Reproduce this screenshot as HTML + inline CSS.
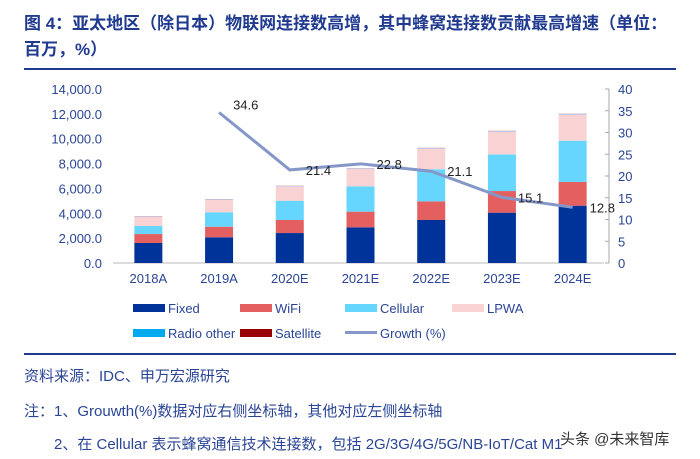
<!DOCTYPE html>
<html><head><meta charset="utf-8"><style>
body{margin:0;background:#fff;width:700px;height:459px;overflow:hidden;position:relative;font-family:"Liberation Sans","Noto Sans CJK SC",sans-serif}
.t{position:absolute;left:24px;color:#1f3a8f;font-weight:bold;font-size:17px;white-space:nowrap}
.n{position:absolute;color:#2a4595;font-size:15px;white-space:nowrap}
.rule{position:absolute;left:24px;width:652px;height:2px;background:#1f3a8f}
</style></head><body>
<div class="t" style="top:9px">图 4：亚太地区（除日本）物联网连接数高增，其中蜂窝连接数贡献最高增速（单位：</div>
<div class="t" style="top:35px">百万，%）</div>
<div class="rule" style="top:68px"></div>
<svg id="chart" width="700" height="360" style="position:absolute;left:0;top:0" font-family="Liberation Sans, sans-serif"></svg>
<div class="rule" style="top:353px"></div>
<div class="n" style="left:24px;top:365px">资料来源：IDC、申万宏源研究</div>
<div class="n" style="left:24px;top:400px">注：1、Grouwth(%)数据对应右侧坐标轴，其他对应左侧坐标轴</div>
<div class="n" style="left:54px;top:433px">2、在 Cellular 表示蜂窝通信技术连接数，包括 2G/3G/4G/5G/NB-IoT/Cat M1</div>
<div class="n" style="left:560px;top:428px;color:#333;font-size:15px">头条 @未来智库</div>
<script>
const categories=["2018A","2019A","2020E","2021E","2022E","2023E","2024E"];
const fixed=[1610,2070,2410,2870,3460,4050,4610];
const wifi=[720,850,1050,1260,1500,1740,1910];
const cellular=[650,1160,1550,2040,2580,2950,3320];
const lpwa=[720,990,1130,1370,1630,1800,2070];
const radioOther=[50,60,60,70,80,80,90];
const satellite=[20,20,20,20,20,20,20];
const growth=[null,34.6,21.4,22.8,21.1,15.1,12.8];
const leftTicks=[0,2000,4000,6000,8000,10000,12000,14000];
const rightTicks=[0,5,10,15,20,25,30,35,40];
const seriesNames=["Fixed","WiFi","Cellular","LPWA","Radio other","Satellite"];
const colors=["#003399","#e46060","#66d6ff","#f9d3d3","#c8c8e8","#b08080"];
const legendColors=["#003399","#e46060","#66d6ff","#f9d3d3","#00aaee","#990000"];
const lineColor="#8497c8";
const svg=document.getElementById('chart');
const NS="http://www.w3.org/2000/svg";
const x0=113,x1=608,y0=263,yTop=89;
const yL=v=>y0-(v/14000)*(y0-yTop);
const yR=v=>y0-(v/40)*(y0-yTop);
const step=(x1-x0)/categories.length;
const xC=i=>x0+step*(i+0.5);
function mk(tag,a,txt){const e=document.createElementNS(NS,tag);for(const k in a)e.setAttribute(k,a[k]);if(txt!=null)e.textContent=txt;svg.appendChild(e);return e;}
leftTicks.forEach(v=>{const e=mk('text',{x:102,y:yL(v)+5,'text-anchor':'end','font-size':13,fill:'#2a4595'},v.toLocaleString('en-US',{minimumFractionDigits:1}));

});
const ax=mk('line',{x1:609,x2:609,y1:yTop,y2:y0,stroke:'#aaa'});


rightTicks.forEach(v=>{mk('line',{x1:605,x2:609,y1:yR(v),y2:yR(v),stroke:'#aaa'});
const e=mk('text',{x:618,y:yR(v)+5,'font-size':13,fill:'#2a4595'},String(v));

});
const xa=mk('line',{x1:x0,x2:x1-4,y1:y0,y2:y0,stroke:'#bbb'});


const series=[fixed,wifi,cellular,lpwa,radioOther,satellite];
categories.forEach((c,i)=>{let acc=0;series.forEach((s,k)=>{const b=mk('rect',{x:xC(i)-14,width:28,y:yL(acc+s[i]),height:yL(acc)-yL(acc+s[i]),fill:colors[k]});


acc+=s[i];});
const l=mk('text',{x:xC(i),y:y0+20,'text-anchor':'middle','font-size':13,fill:'#2a4595'},c);

});
let d='';growth.forEach((g,i)=>{if(g==null)return;d+=(d?'L':'M')+xC(i)+' '+yR(g);});
const p=mk('path',{d:d,fill:'none',stroke:lineColor,'stroke-width':3});


growth.forEach((g,i)=>{if(g==null)return;const e=mk('text',{x:xC(i)+(i==1?14:i==6?17:16),y:yR(g)+(i==1?-3:5),'font-size':13,fill:'#222'},g.toFixed(1));

});
const leg=[["Fixed",0,133,308],["WiFi",1,240,308],["Cellular",2,345,308],["LPWA",3,452,308],["Radio other",4,133,333],["Satellite",5,240,333],["Growth (%)",-1,345,333]];
leg.forEach(([n,k,x,y])=>{let sw;if(k<0)sw=mk('rect',{x:x,y:y-2,width:32,height:3,fill:lineColor});else sw=mk('rect',{x:x,y:y-4,width:32,height:8,fill:legendColors[k]});


const t=mk('text',{x:x+35,y:y+5,'font-size':13,fill:'#2a4595'},n);

});
</script>
</body></html>
